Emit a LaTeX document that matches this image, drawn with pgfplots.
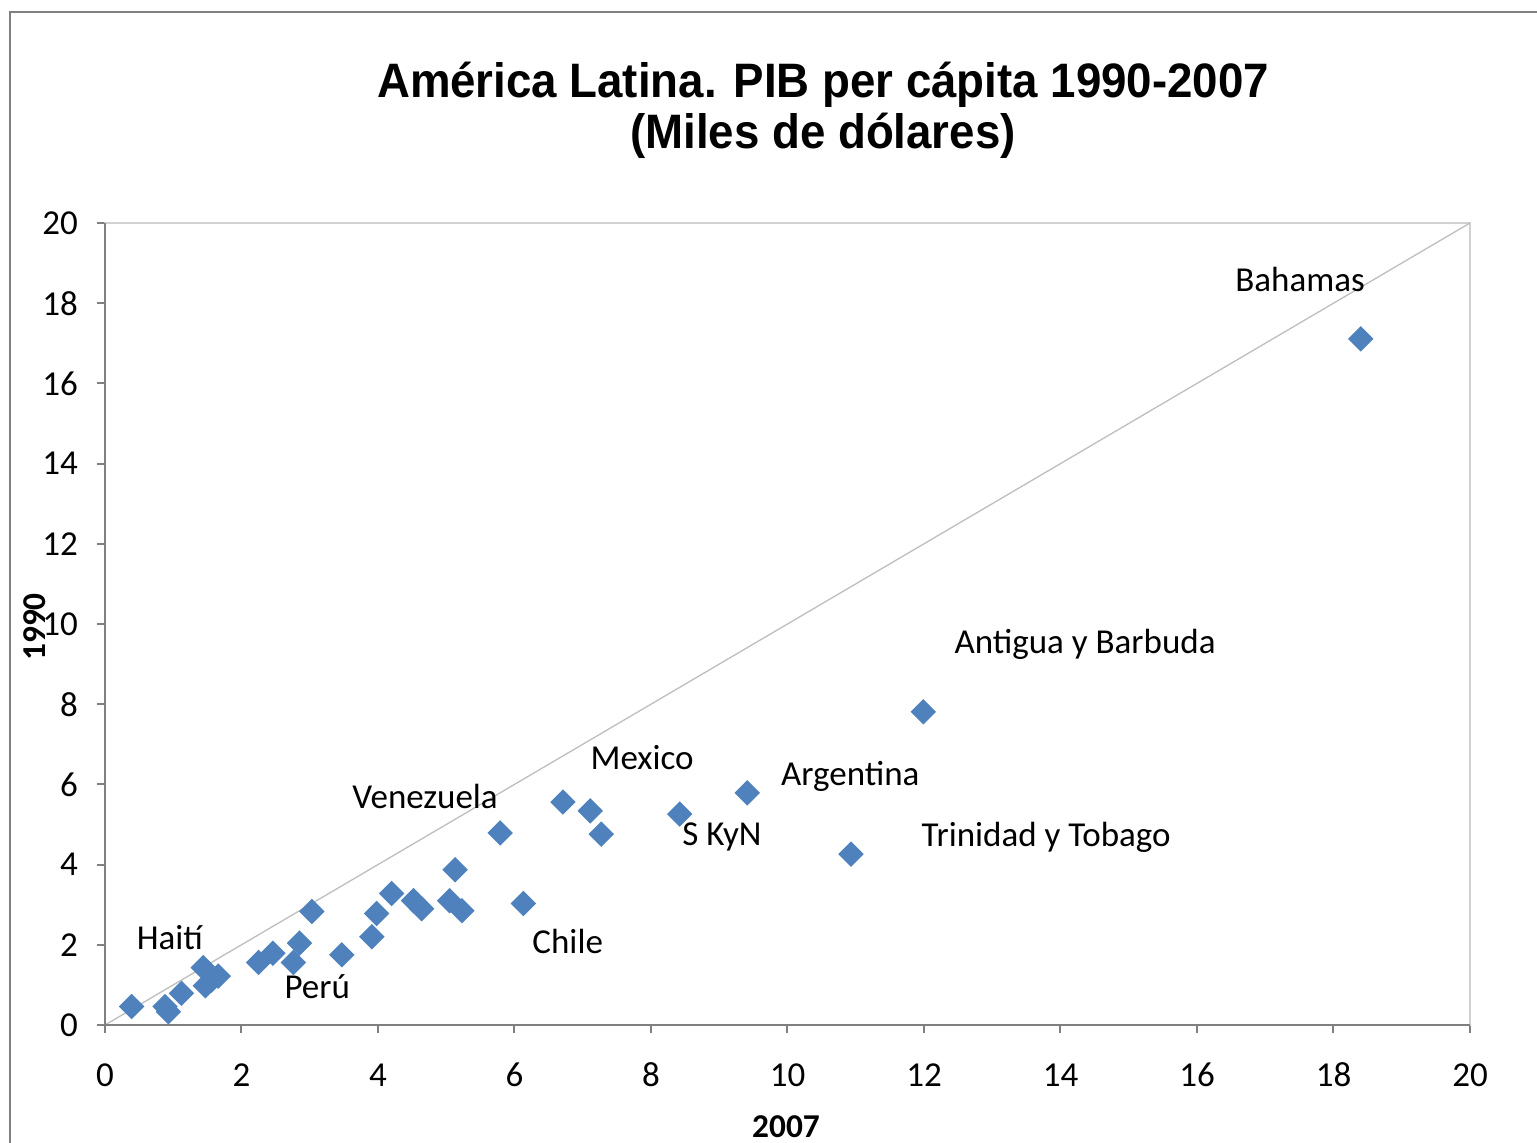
\documentclass[border=0pt]{standalone}
\usepackage{fontspec}
\setmainfont{Carlito}
\newfontfamily\titlefont{Liberation Sans}
\usepackage{pgfplots}
\pgfplotsset{compat=1.18}
\definecolor{exblue}{RGB}{79,129,189}
\begin{document}
\begin{tikzpicture}
\useasboundingbox (-31.5pt,-35.4pt) rectangle (429.6pt,307.5pt);
\draw[black!50, line width=0.6pt] (-28.5pt,-45pt) -- (-28.5pt,303.9pt) -- (440pt,303.9pt);
\begin{axis}[
 scale only axis, width=409.5pt, height=240.6pt,
 xmin=0,xmax=20,ymin=0,ymax=20,
 xtick={0,2,...,20}, ytick={0,2,...,20},
 tick align=outside, major tick length=2.4pt,
 xtick pos=bottom, ytick pos=left,
 axis line style={draw=black!18, line width=0.5pt},
 tick style={draw=black!50, line width=0.6pt},
 ticklabel style={font=\fontsize{10.5}{12}\selectfont},
 /pgf/number format/assume math mode=true,
 xticklabel style={anchor=base, yshift=-16.2pt},
 yticklabel style={xshift=-2.2pt},
 clip=false,
]
\addplot[black!25, line width=0.4pt] coordinates {(0,0) (20,20)};
\draw[black!50, line width=0.6pt] (rel axis cs:0,1) -- (rel axis cs:0,0) -- (rel axis cs:1,0);
\addplot[only marks, mark=square*, mark size=2.5pt, mark options={rotate=45, fill=exblue, draw=exblue}] table {
x y
0.39 0.46
0.88 0.46
0.93 0.33
1.12 0.79
1.44 1.43
1.47 0.98
1.56 1.12
1.66 1.22
2.25 1.56
2.46 1.79
2.76 1.56
2.85 2.04
3.03 2.83
3.47 1.75
3.91 2.20
3.98 2.78
4.20 3.28
4.52 3.10
4.64 2.90
5.05 3.10
5.13 3.87
5.23 2.85
5.79 4.79
6.13 3.03
6.71 5.56
7.11 5.34
7.27 4.76
8.42 5.26
9.41 5.79
10.93 4.26
11.99 7.81
18.40 17.11
};
\begin{scope}[every node/.style={font=\fontsize{10.5}{12}\selectfont, anchor=center}]
\node at (axis cs:17.51,18.58) {Bahamas};
\node at (axis cs:14.36,9.48) {Antigua y Barbuda};
\node at (axis cs:7.87,6.68) {Mexico};
\node at (axis cs:10.92,6.21) {Argentina};
\node at (axis cs:4.69,5.69) {Venezuela};
\node at (axis cs:9.04,4.69) {S KyN};
\node at (axis cs:13.79,4.69) {Trinidad y Tobago};
\node at (axis cs:6.78,2.09) {Chile};
\node at (axis cs:0.95,2.19) {Haití};
\node at (axis cs:3.11,0.95) {Perú};
\end{scope}
\end{axis}
\node[align=center, font=\titlefont\bfseries\fontsize{14.5}{15.3}\selectfont] at (215.4pt,274.3pt) {\scalebox{0.944}[1]{América Latina. PIB per cápita 1990-2007}\\\scalebox{0.944}[1]{(Miles de dólares)}};
\node[rotate=90, font=\bfseries\fontsize{10}{12}\selectfont] at (-21pt,119.4pt) {1990};
\node[font=\bfseries\fontsize{10}{12}\selectfont] at (204.3pt,-30.6pt) {2007};
\end{tikzpicture}
\end{document}
